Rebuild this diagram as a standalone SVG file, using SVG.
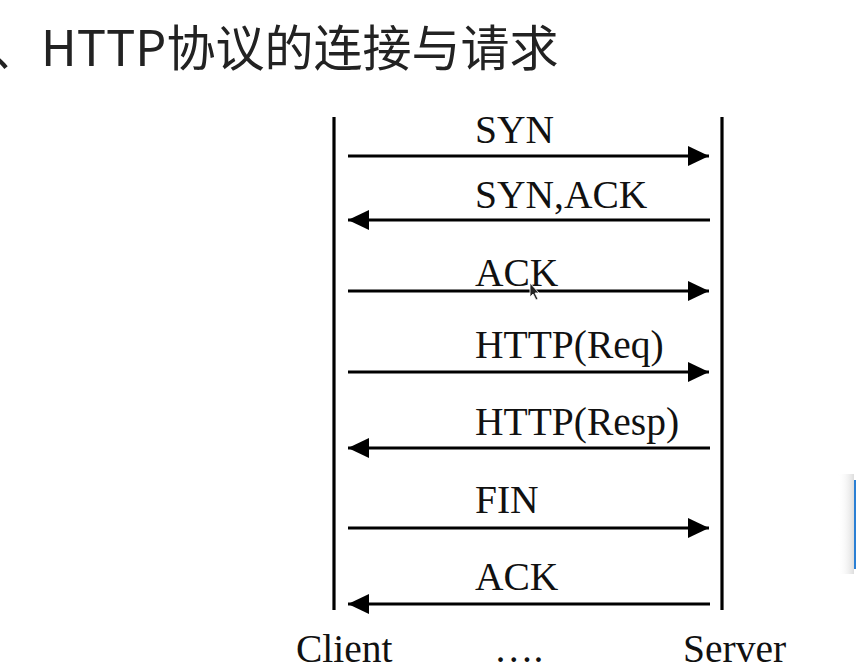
<svg xmlns="http://www.w3.org/2000/svg" width="856" height="671" viewBox="0 0 856 671">
<defs>
<marker id="ah" markerWidth="21" markerHeight="20" refX="21" refY="10" orient="auto" markerUnits="userSpaceOnUse">
<path d="M0,0 L21,10 L0,20 Z" fill="#000"/>
</marker>
<linearGradient id="sh" x1="0" y1="0" x2="1" y2="0">
<stop offset="0" stop-color="#fff" stop-opacity="0"/>
<stop offset="1" stop-color="#ddd"/>
</linearGradient>
<style>
.title{font-family:"Noto Sans CJK SC","Noto Sans",sans-serif;font-size:49px;fill:#222}
.lbl{font-family:"Liberation Serif","Times New Roman",serif;font-size:39.5px;fill:#111}
.life{stroke:#000;stroke-width:3.2;fill:none}
.msg{stroke:#000;stroke-width:3.2;fill:none;marker-end:url(#ah)}
</style>
</defs>
<rect width="856" height="671" fill="#fff"/>
<text class="title" x="-9" y="66">、</text>
<text class="title" x="41" y="66">HTTP协议的连接与请求</text>
<g id="client">
<line class="life" x1="334" y1="117" x2="334" y2="610"/>
<text class="lbl" x="296" y="662">Client</text>
</g>
<g id="server">
<line class="life" x1="722" y1="117" x2="722" y2="610"/>
<text class="lbl" x="683" y="662">Server</text>
</g>
<text class="lbl" x="494" y="662">….</text>
<g id="connectors">
<line class="msg" x1="348" y1="156" x2="709" y2="156"/>
<line class="msg" x1="710" y1="220" x2="348" y2="220"/>
<line class="msg" x1="348" y1="291" x2="709" y2="291"/>
<line class="msg" x1="348" y1="372" x2="709" y2="372"/>
<line class="msg" x1="710" y1="448" x2="348" y2="448"/>
<line class="msg" x1="348" y1="528" x2="709" y2="528"/>
<line class="msg" x1="710" y1="604" x2="348" y2="604"/>
</g>
<g id="labels">
<text class="lbl" x="475" y="143">SYN</text>
<text class="lbl" x="475" y="208">SYN,ACK</text>
<text class="lbl" x="475" y="286">ACK</text>
<text class="lbl" x="475" y="358">HTTP(Req)</text>
<text class="lbl" x="475" y="435">HTTP(Resp)</text>
<text class="lbl" x="475" y="513">FIN</text>
<text class="lbl" x="475" y="590">ACK</text>
</g>
<path d="M530,283 L530,297 L533,294 L536,300 L538,299 L535,293 L539,293 Z" fill="#222" stroke="#fff" stroke-width="0.8"/>
<rect x="838" y="474" width="16" height="100" fill="url(#sh)"/>
<rect x="854" y="480" width="2" height="89" fill="#2a7fd4"/>
</svg>
